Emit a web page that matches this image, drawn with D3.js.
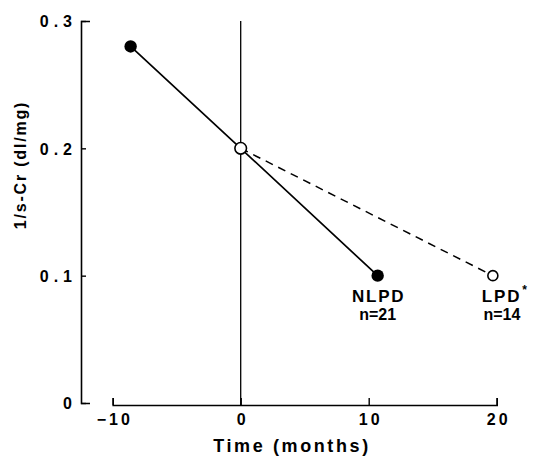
<!DOCTYPE html>
<html>
<head>
<meta charset="utf-8">
<script src="https://cdn.jsdelivr.net/npm/d3@7"></script>
<style>
  html, body { margin: 0; padding: 0; background: #fff; }
  svg { display: block; }
  text { font-family: "Liberation Sans", Arial, Helvetica, sans-serif; fill: #000; }
</style>
</head>
<body>
<svg id="chart" width="533" height="456"></svg>
<script>
// Reciprocal serum creatinine over time, before and after the start of diet
const xTicks = [-10, 0, 10, 20];
const yTicks = [0, 0.1, 0.2, 0.3];

// NLPD group (filled markers, solid line)
const nlpdTime = [-8.6, 0, 10.7];
const nlpdValue = [0.28, 0.2, 0.1];

// LPD group (open markers, dashed line), starting from the shared point at 0
const lpdTime = [0, 19.7];
const lpdValue = [0.2, 0.1];

const groupNames = ["NLPD", "LPD"];
const groupSizes = ["n=21", "n=14"];

const svg = d3.select("#chart");

const x = d3.scaleLinear().domain([-10, 20]).range([112.7, 496.7]);
const y = d3.scaleLinear().domain([0, 0.3]).range([403, 21]);

const fmtY = d => d === 0 ? "0" : d3.format(".1f")(d);

// Y axis: inward ticks, bracket ends
const yAxis = svg.append("g")
  .attr("transform", "translate(81,0)")
  .call(d3.axisLeft(y).tickValues(yTicks).tickSizeInner(-5).tickSizeOuter(-9).tickFormat(fmtY));
yAxis.select(".domain").attr("stroke", "#000").attr("stroke-width", 1.6);
yAxis.selectAll(".tick line").attr("stroke", "#000").attr("stroke-width", 1.4);
yAxis.selectAll(".tick text")
  .attr("x", -4)
  .attr("dy", "0.36em")
  .style("font-size", "16px")
  .style("font-weight", "bold")
  .style("letter-spacing", "5px")
  .attr("text-anchor", "end");

// X axis: separate baseline, upward ticks
const xAxis = svg.append("g")
  .attr("transform", "translate(0,405)")
  .call(d3.axisBottom(x).tickValues(xTicks).tickSizeInner(-7).tickSizeOuter(-7).tickFormat(d => d < 0 ? "\u2212" + Math.abs(d) : d));
xAxis.select(".domain").attr("stroke", "#000").attr("stroke-width", 1.6);
xAxis.selectAll(".tick text")
  .attr("y", 9)
  .attr("dy", "0.71em")
  .attr("dx", "1.5px")
  .style("font-size", "16px")
  .style("font-weight", "bold")
  .style("letter-spacing", "3px");
xAxis.selectAll(".tick line").attr("stroke", "#000").attr("stroke-width", 1.4);

// Axis titles
svg.append("text")
  .attr("transform", "translate(26,165) rotate(-90)")
  .attr("text-anchor", "middle")
  .style("font-size", "16px")
  .style("font-weight", "bold")
  .style("letter-spacing", "1.8px")
  .text("1/s-Cr (dl/mg)");

svg.append("text")
  .attr("x", 292)
  .attr("y", 452)
  .attr("text-anchor", "middle")
  .style("font-size", "18px")
  .style("font-weight", "bold")
  .style("letter-spacing", "2.6px")
  .text("Time (months)");

// Reference line at diet start
svg.append("line")
  .attr("x1", x(0)).attr("x2", x(0))
  .attr("y1", y(0.3)).attr("y2", 405)
  .attr("stroke", "#000").attr("stroke-width", 1.3);

const line = d3.line().x(d => x(d[0])).y(d => y(d[1]));
const nlpd = nlpdTime.map((t, i) => [t, nlpdValue[i]]);
const lpd = lpdTime.map((t, i) => [t, lpdValue[i]]);

svg.append("path")
  .attr("d", line(lpd))
  .attr("fill", "none").attr("stroke", "#000").attr("stroke-width", 1.5)
  .attr("stroke-dasharray", "8,6");

svg.append("path")
  .attr("d", line(nlpd))
  .attr("fill", "none").attr("stroke", "#000").attr("stroke-width", 1.7);

// Markers
svg.selectAll(".nlpd-pt").data(nlpd.filter(d => d[0] !== 0)).enter()
  .append("circle")
  .attr("cx", d => x(d[0])).attr("cy", d => y(d[1]))
  .attr("r", 6.2).attr("fill", "#000");

svg.selectAll(".lpd-pt").data(lpd).enter()
  .append("circle")
  .attr("cx", d => x(d[0])).attr("cy", d => y(d[1]))
  .attr("r", d => d[0] === 0 ? 5.8 : 5)
  .attr("fill", "#fff").attr("stroke", "#000").attr("stroke-width", 1.6);

// Group labels under the end points
const ends = [nlpd[nlpd.length - 1], lpd[lpd.length - 1]];
ends.forEach((d, i) => {
  const px = x(d[0]);
  const t = svg.append("text")
    .attr("x", i === 0 ? px + 1 : px - 11)
    .attr("y", y(d[1]) + 26)
    .attr("text-anchor", i === 0 ? "middle" : "start")
    .style("font-size", "17px")
    .style("font-weight", "bold")
    .style("letter-spacing", "1.8px")
    .text(groupNames[i]);
  if (i === 1) {
    t.append("tspan").attr("dy", -8).attr("dx", 1).style("font-size", "12px").text("*");
  }
  svg.append("text")
    .attr("x", px + (i === 0 ? 0 : 9))
    .attr("y", y(d[1]) + 44)
    .attr("text-anchor", "middle")
    .style("font-size", "16px")
    .style("font-weight", "bold")
    .text(groupSizes[i]);
});
</script>
</body>
</html>
